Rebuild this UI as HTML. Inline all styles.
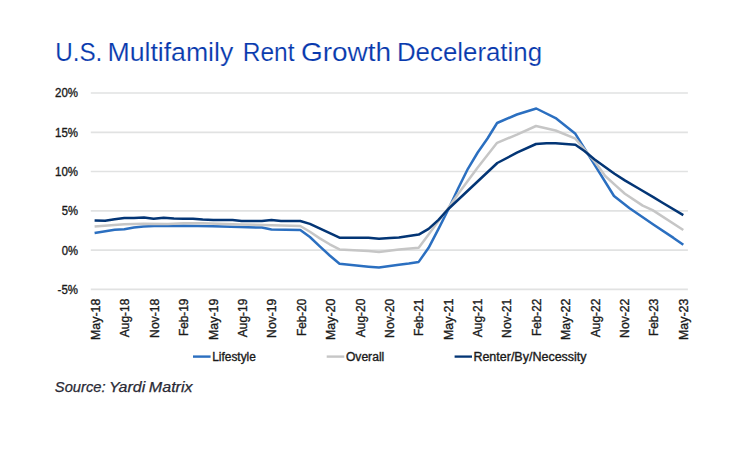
<!DOCTYPE html>
<html><head><meta charset="utf-8">
<style>
html,body{margin:0;padding:0;background:#fff;width:750px;height:455px;overflow:hidden;}
svg{display:block;}
text{font-family:"Liberation Sans",sans-serif;}
.ax{font-size:12.3px;fill:#1a1a1a;stroke:#1a1a1a;stroke-width:0.35px;}
.lg text{font-size:12px;fill:#1a1a1a;stroke:#1a1a1a;stroke-width:0.35px;}
</style></head>
<body>
<svg width="750" height="455" viewBox="0 0 750 455">
<g font-size="25.2" fill="#0839ad" stroke="#ffffff" stroke-width="0.15">
<text x="55.18" y="60.5" textLength="47.11" lengthAdjust="spacingAndGlyphs">U.S.</text>
<text x="107.47" y="60.5" textLength="125.77" lengthAdjust="spacingAndGlyphs">Multifamily</text>
<text x="242.74" y="60.5" textLength="51.84" lengthAdjust="spacingAndGlyphs">Rent</text>
<text x="300.9" y="60.5" textLength="90.31" lengthAdjust="spacingAndGlyphs">Growth</text>
<text x="396.93" y="60.5" textLength="145.13" lengthAdjust="spacingAndGlyphs">Decelerating</text>
</g>

<g stroke="#e1e2e2" stroke-width="1.7">
<line x1="90.8" y1="93.0" x2="687.9" y2="93.0"/>
<line x1="90.8" y1="132.3" x2="687.9" y2="132.3"/>
<line x1="90.8" y1="171.5" x2="687.9" y2="171.5"/>
<line x1="90.8" y1="210.8" x2="687.9" y2="210.8"/>
<line x1="90.8" y1="250.05" x2="687.9" y2="250.05"/>
<line x1="90.8" y1="289.3" x2="687.9" y2="289.3"/>
</g>

<g class="ax" text-anchor="end">
<text x="78" y="97.3" textLength="23.0" lengthAdjust="spacingAndGlyphs">20%</text>
<text x="78" y="136.7" textLength="23.0" lengthAdjust="spacingAndGlyphs">15%</text>
<text x="78" y="176.0" textLength="23.0" lengthAdjust="spacingAndGlyphs">10%</text>
<text x="78" y="215.3" textLength="16.3" lengthAdjust="spacingAndGlyphs">5%</text>
<text x="78" y="254.6" textLength="16.3" lengthAdjust="spacingAndGlyphs">0%</text>
<text x="78" y="293.9" textLength="20.4" lengthAdjust="spacingAndGlyphs">-5%</text>
</g>

<g fill="none" stroke-width="2.5" stroke-linejoin="round" stroke-linecap="butt">
<polyline stroke="#2b6fc0" points="94.6,232.9 114.7,229.7 124.3,229.2 133.9,227.6 143.5,226.5 154.1,226 168,226 183.5,225.8 212.3,226.2 240,227 261.9,227.6 271.5,229.4 300.3,230 309.9,237 319.8,246.3 329.7,255.5 339.5,263.8 368.5,266.7 379,267.6 389.8,266 398.9,264.7 408.8,263.5 418.7,261.9 428.6,247.8 438.5,228.9 448.3,209.5 458.1,188.5 467.9,168.8 477.7,152.5 487.5,138.5 497.1,123 516.9,114.5 536.3,108.5 555.6,118.1 575.4,133.8 614,196 629.6,208.2 653.7,224.7 673.5,237.9 683.3,244.8"/>
<polyline stroke="#c6c6c6" points="94.6,226.5 124.3,224.2 143.5,223.7 168,223.9 183.5,223.3 202.7,223.3 240,224.4 261.9,224.9 300.3,226 309.9,231.8 319.8,238.4 329.7,244.3 339.5,249.4 368.5,251.1 379,252 398.9,249.5 418.7,247.8 428.6,234.5 438.5,221 448.3,208 458.1,194 467.9,180.8 477.7,167.5 487.5,155 497.1,142.8 516.9,134.6 536,126 555.6,130.5 575.4,138.7 584.4,149.4 596.4,163.7 605.2,176 615.8,185.7 624.9,193.7 642.7,205.6 652.6,210.1 683.3,230"/>
<polyline stroke="#033575" points="94.6,220.4 105.1,220.7 114.7,219.3 124.3,218 133.9,218 144,217.5 153.6,218.7 163.7,217.7 173.9,218.5 183.5,218.7 193,218.7 202.7,219.6 213.3,219.9 223,219.9 232.5,220.1 241.6,221 261.9,221 271.5,220.1 281,221 300.3,221 309.9,223.9 339.5,237.7 368.5,237.7 379,238.8 389.8,238 398.9,237.6 408.8,236 418.7,234.6 428.6,228.9 438.5,219.8 448.3,209 497.3,163 516.9,152.7 536,144 546.5,143.3 555.6,143.3 575.4,144.8 584.4,151 594.3,159.3 614.5,173.8 625.2,180.6 639.5,189 653.7,197.3 662.5,202.7 683.3,215.1"/>
</g>

<g id="xl" class="ax" text-anchor="end">
<text transform="translate(100.0,298.6) rotate(-90)" textLength="41.4" lengthAdjust="spacingAndGlyphs">May-18</text>
<text transform="translate(129.4,298.6) rotate(-90)" textLength="38.6" lengthAdjust="spacingAndGlyphs">Aug-18</text>
<text transform="translate(158.8,298.6) rotate(-90)" textLength="39.3" lengthAdjust="spacingAndGlyphs">Nov-18</text>
<text transform="translate(188.2,298.6) rotate(-90)" textLength="37.4" lengthAdjust="spacingAndGlyphs">Feb-19</text>
<text transform="translate(217.5,298.6) rotate(-90)" textLength="41.4" lengthAdjust="spacingAndGlyphs">May-19</text>
<text transform="translate(246.9,298.6) rotate(-90)" textLength="38.6" lengthAdjust="spacingAndGlyphs">Aug-19</text>
<text transform="translate(276.3,298.6) rotate(-90)" textLength="39.3" lengthAdjust="spacingAndGlyphs">Nov-19</text>
<text transform="translate(305.7,298.6) rotate(-90)" textLength="37.4" lengthAdjust="spacingAndGlyphs">Feb-20</text>
<text transform="translate(335.1,298.6) rotate(-90)" textLength="41.4" lengthAdjust="spacingAndGlyphs">May-20</text>
<text transform="translate(364.5,298.6) rotate(-90)" textLength="38.6" lengthAdjust="spacingAndGlyphs">Aug-20</text>
<text transform="translate(393.8,298.6) rotate(-90)" textLength="39.3" lengthAdjust="spacingAndGlyphs">Nov-20</text>
<text transform="translate(423.2,298.6) rotate(-90)" textLength="37.4" lengthAdjust="spacingAndGlyphs">Feb-21</text>
<text transform="translate(452.6,298.6) rotate(-90)" textLength="41.4" lengthAdjust="spacingAndGlyphs">May-21</text>
<text transform="translate(482.0,298.6) rotate(-90)" textLength="38.6" lengthAdjust="spacingAndGlyphs">Aug-21</text>
<text transform="translate(511.4,298.6) rotate(-90)" textLength="39.3" lengthAdjust="spacingAndGlyphs">Nov-21</text>
<text transform="translate(540.8,298.6) rotate(-90)" textLength="37.4" lengthAdjust="spacingAndGlyphs">Feb-22</text>
<text transform="translate(570.2,298.6) rotate(-90)" textLength="41.4" lengthAdjust="spacingAndGlyphs">May-22</text>
<text transform="translate(599.5,298.6) rotate(-90)" textLength="38.6" lengthAdjust="spacingAndGlyphs">Aug-22</text>
<text transform="translate(628.9,298.6) rotate(-90)" textLength="39.3" lengthAdjust="spacingAndGlyphs">Nov-22</text>
<text transform="translate(658.3,298.6) rotate(-90)" textLength="37.4" lengthAdjust="spacingAndGlyphs">Feb-23</text>
<text transform="translate(687.7,298.6) rotate(-90)" textLength="41.4" lengthAdjust="spacingAndGlyphs">May-23</text>
</g>

<g class="lg">
<line x1="193" y1="356.6" x2="210.6" y2="356.6" stroke="#2b6fc0" stroke-width="2.4"/>
<text x="212.2" y="360.6" textLength="43.7" lengthAdjust="spacingAndGlyphs">Lifestyle</text>
<line x1="326.7" y1="356.6" x2="344.3" y2="356.6" stroke="#c6c6c6" stroke-width="2.4"/>
<text x="345.9" y="360.6" textLength="38.4" lengthAdjust="spacingAndGlyphs">Overall</text>
<line x1="454.6" y1="356.6" x2="472" y2="356.6" stroke="#033575" stroke-width="2.3"/>
<text x="473.4" y="360.6" textLength="113.2" lengthAdjust="spacingAndGlyphs">Renter/By/Necessity</text>
</g>

<g font-size="14.5" font-style="italic" fill="#2a2a35" stroke="#2a2a35" stroke-width="0.25">
<text x="54.86" y="391.8" textLength="50.68" lengthAdjust="spacingAndGlyphs">Source:</text>
<text x="109.12" y="391.8" textLength="36.08" lengthAdjust="spacingAndGlyphs">Yardi</text>
<text x="148.82" y="391.8" textLength="43.74" lengthAdjust="spacingAndGlyphs">Matrix</text>
</g>
</svg>
</body></html>
